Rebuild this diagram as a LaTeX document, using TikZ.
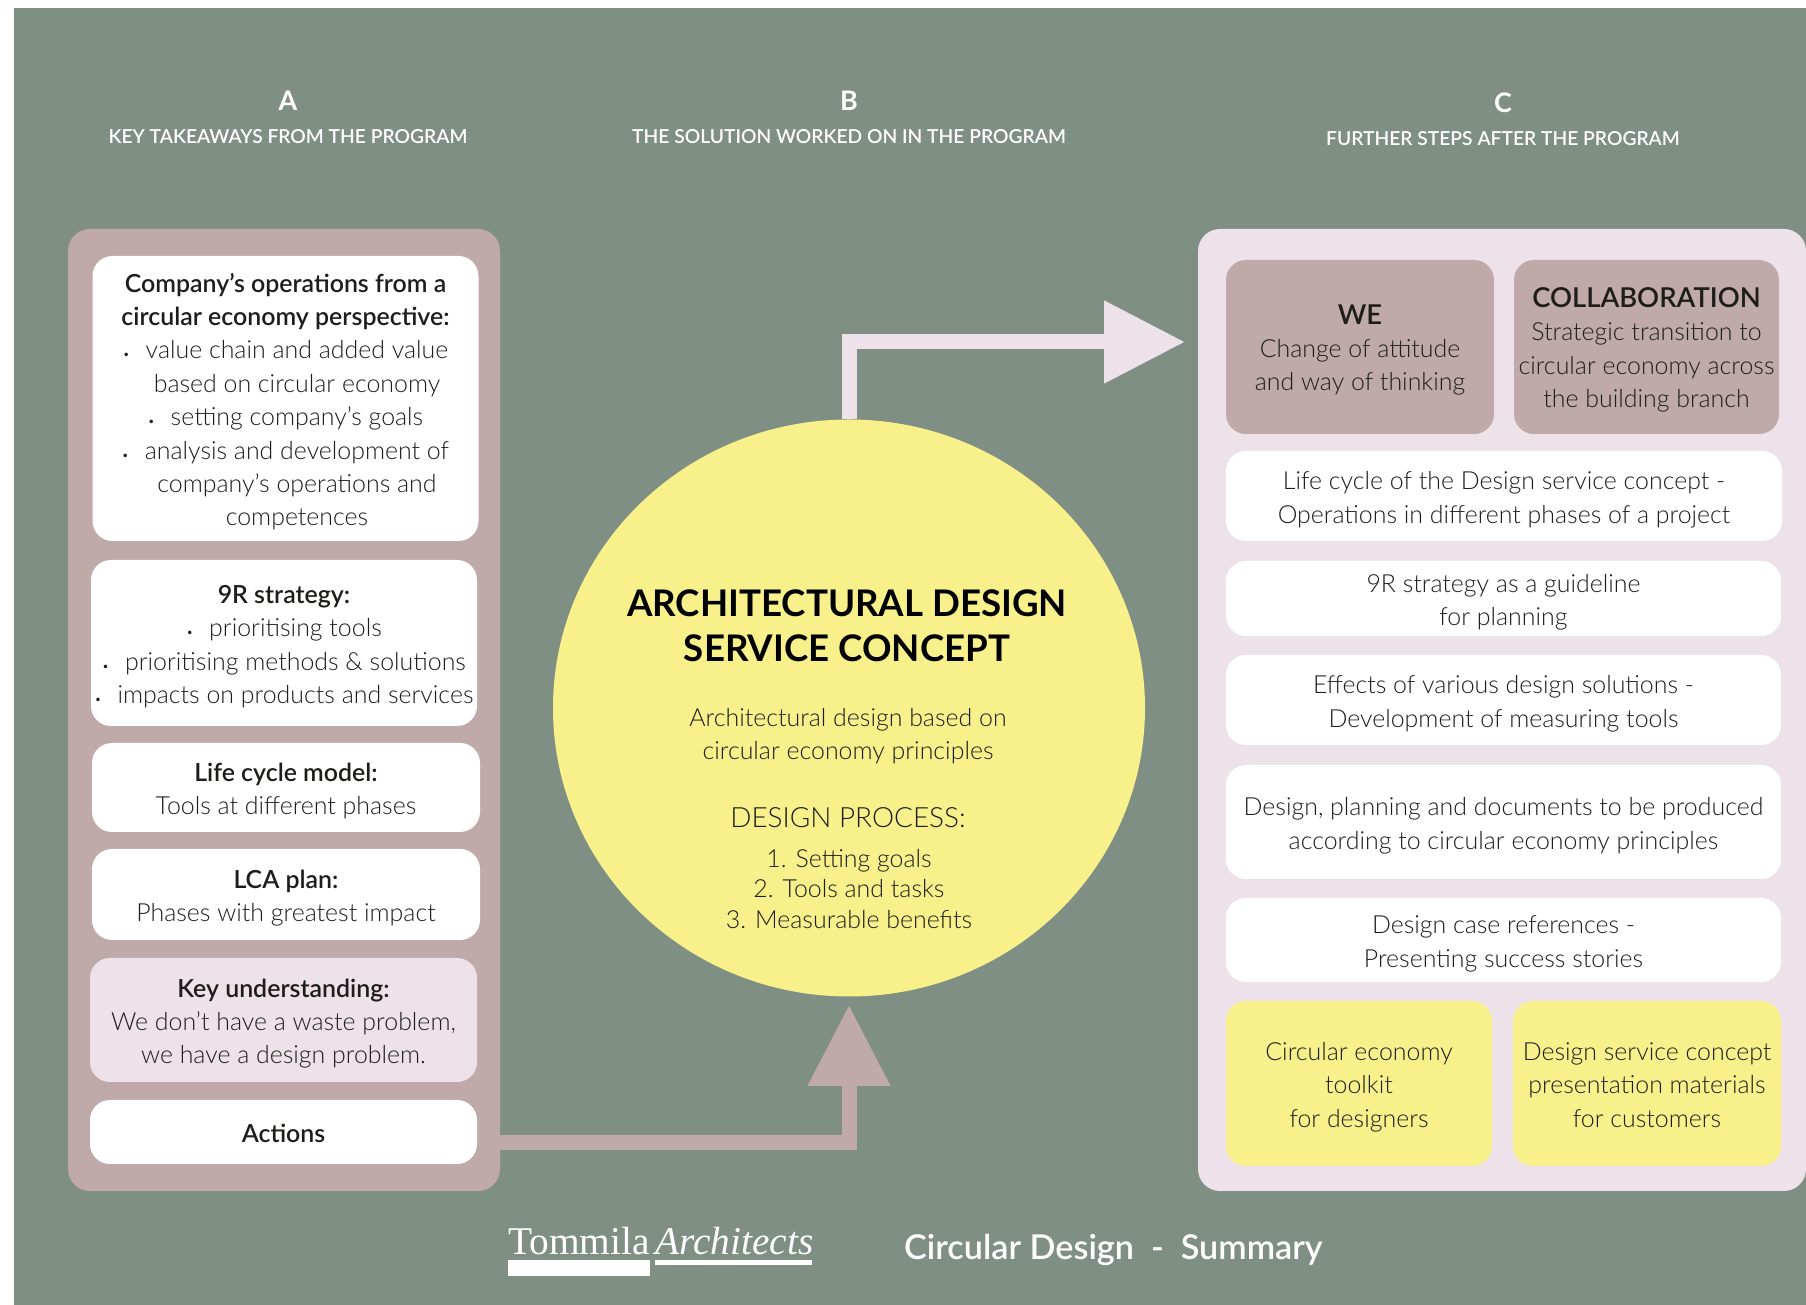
\documentclass[tikz,border=0pt]{standalone}
\usepackage{fontspec}
\usepackage{amsmath}
\usetikzlibrary{arrows.meta,shapes.geometric}
\setmainfont{Lato}[UprightFont=* Light,BoldFont=* Semibold]
\newfontfamily\heavyfont{Lato}[UprightFont=* Bold]
\newfontfamily\logofont{Liberation Serif}
\definecolor{sagebg}{HTML}{7F8F84}
\definecolor{rosecol}{HTML}{BFA9A9}
\definecolor{palecol}{HTML}{EDE2E9}
\definecolor{yellowcol}{HTML}{F8F18B}
\definecolor{inkcol}{HTML}{1D1D1B}
\newcommand{\itemdot}{{\fontsize{12}{12}\selectfont\textbullet}\hspace{16bp}}
\newcommand{\itemgap}{\hspace*{23bp}}
\newcommand{\topgap}{\rule{0pt}{25.5bp}}
\tikzset{
  bodytext/.style={font=\fontsize{25}{33.5}\selectfont,text=inkcol,align=center},
  panel/.style={rectangle,rounded corners=22bp,inner sep=0pt},
  card/.style={rectangle,rounded corners=20bp,inner sep=0pt,bodytext},
  headtext/.style={font=\fontsize{19.3}{24}\selectfont\bfseries,text=white,inner sep=0pt},
  letter/.style={font=\fontsize{27}{30}\selectfont\heavyfont,text=white,inner sep=0pt},
  bareline/.style={line width=15bp,-{Triangle[length=81bp,width=79bp]}},
}
\begin{document}
\begin{tikzpicture}[>=latex,line join=miter]
  \useasboundingbox (0bp,0bp) rectangle (1806bp,1305bp);
  \fill[sagebg] (14bp,0bp) rectangle (1806bp,1297bp);
%%
% Node: headers
  \node[letter] (letterA) at (288bp,1204bp) {A};
  \node[headtext] (headA) at (288bp,1168bp) {KEY TAKEAWAYS FROM THE PROGRAM};
  \node[letter] (letterB) at (849bp,1204bp) {B};
  \node[headtext] (headB) at (849bp,1168bp) {THE SOLUTION WORKED ON IN THE PROGRAM};
  \node[letter] (letterC) at (1503bp,1202bp) {C};
  \node[headtext] (headC) at (1503bp,1166bp) {FURTHER STEPS AFTER THE PROGRAM};
%%
% Node: panels
  \node[panel,fill=rosecol,minimum width=432bp,minimum height=962bp] (panelA) at (284bp,595bp) {};
  \node[panel,fill=palecol,minimum width=608bp,minimum height=962bp] (panelC) at (1502bp,595bp) {};
%%
% Node: concept
  \node[ellipse,fill=yellowcol,minimum width=592bp,minimum height=577bp,inner sep=0pt] (concept) at (849bp,597bp) {};
  \coordinate (tipC) at (1185bp,963bp);
  \coordinate (startA) at (500bp,162bp);
  \coordinate (tipB) at (849bp,300bp);
  % Edge: panelA -> concept
  \draw[bareline,rosecol] (startA) -| (tipB);
  % Edge: concept -> panelC
  \draw[bareline,palecol] (concept.north) |- (tipC);
  \node[inner sep=0pt,align=center,font=\fontsize{36.8}{45}\selectfont\heavyfont,text=black] (conceptTitle) at (847bp,679.5bp) {ARCHITECTURAL DESIGN\\SERVICE CONCEPT};
  \node[bodytext,inner sep=0pt] (conceptText) at (848bp,569bp) {Architectural design based on\\circular economy principles};
  \node[bodytext,inner sep=0pt,font=\fontsize{28}{33.5}\selectfont] (processHead) at (848bp,487bp) {DESIGN PROCESS:};
  \node[bodytext,inner sep=0pt,font=\fontsize{25}{31}\selectfont] (processList) at (849bp,416bp) {1. Setting goals\\2. Tools and tasks\\3. Measurable benefits};
%%
% Node: column A
  \node[card,fill=white,minimum width=386bp,minimum height=285bp] (opsBox) at (285.5bp,906.5bp) {\topgap\textbf{Company’s operations from a}\\\textbf{circular economy perspective:}\\\itemdot value chain and added value\\\itemgap based on circular economy\\\itemdot setting company’s goals\\\itemdot analysis and development of\\\itemgap company’s operations and\\\itemgap competences};
  \node[card,fill=white,minimum width=386bp,minimum height=166bp] (strategyBox) at (284bp,662bp) {\topgap\textbf{9R strategy:}\\\itemdot prioritising tools\\\itemdot prioritising methods \& solutions\\\itemdot impacts on products and services};
  \node[card,fill=white,minimum width=388bp,minimum height=89bp] (lifeBox) at (286bp,517.5bp) {\topgap\textbf{Life cycle model:}\\Tools at different phases};
  \node[card,fill=white,minimum width=388bp,minimum height=91bp] (lcaBox) at (286bp,410.5bp) {\topgap\textbf{LCA plan:}\\Phases with greatest impact};
  \node[card,fill=palecol,minimum width=387bp,minimum height=124bp] (keyBox) at (283.5bp,285bp) {\topgap\textbf{Key understanding:}\\We don’t have a waste problem,\\we have a design problem.};
  \node[card,fill=white,minimum width=387bp,minimum height=64bp] (actionsBox) at (283.5bp,173bp) {\rule{0pt}{21bp}\textbf{Actions}};
%%
% Node: column C
  \node[card,fill=rosecol,minimum width=268bp,minimum height=174bp] (weBox) at (1360bp,958bp) {\topgap{\fontsize{27.5}{33.5}\selectfont\textbf{WE}}\\Change of attitude\\and way of thinking};
  \node[card,fill=rosecol,minimum width=265bp,minimum height=174bp] (collabBox) at (1646.5bp,958bp) {\topgap{\fontsize{27.5}{33.5}\selectfont\textbf{COLLABORATION}}\\Strategic transition to\\circular economy across\\the building branch};
  \node[card,fill=white,minimum width=556bp,minimum height=90bp] (cycleBox) at (1504bp,809bp) {\topgap Life cycle of the Design service concept -\\Operations in different phases of a project};
  \node[card,fill=white,minimum width=555bp,minimum height=75bp] (guideBox) at (1503.5bp,706.5bp) {\topgap 9R strategy as a guideline\\for planning};
  \node[card,fill=white,minimum width=555bp,minimum height=90bp] (effectsBox) at (1503.5bp,605bp) {\topgap Effects of various design solutions -\\Development of measuring tools};
  \node[card,fill=white,minimum width=555bp,minimum height=114bp] (planBox) at (1503.5bp,483bp) {\topgap Design, planning and documents to be produced\\according to circular economy principles};
  \node[card,fill=white,minimum width=555bp,minimum height=84bp] (caseBox) at (1503.5bp,365bp) {\topgap Design case references -\\Presenting success stories};
  \node[card,fill=yellowcol,minimum width=266bp,minimum height=165bp] (toolkitBox) at (1359bp,221.5bp) {\topgap Circular economy\\toolkit\\for designers};
  \node[card,fill=yellowcol,minimum width=268bp,minimum height=165bp] (materialBox) at (1647bp,221.5bp) {\rule{0pt}{21bp}Design service concept\\presentation materials\\for customers};
%%
% Node: footer
  \node[anchor=base west,inner sep=0pt,text=white,font=\logofont\fontsize{39.5}{40}\selectfont] (logoA) at (508bp,50bp) {Tommila};
  \node[anchor=base west,inner sep=0pt,text=white,font=\logofont\itshape\fontsize{39.5}{40}\selectfont] (logoB) at (655bp,50bp) {Architects};
  \fill[white] (508bp,29bp) rectangle (650bp,45bp);
  \fill[white] (655bp,40bp) rectangle (812bp,45bp);
  \node[anchor=base west,inner sep=0pt,text=white,font=\fontsize{34.3}{40}\selectfont\bfseries] (footerTitle) at (904bp,45bp) {Circular Design\ \ -\ \ Summary};
%
\end{tikzpicture}
\end{document}
